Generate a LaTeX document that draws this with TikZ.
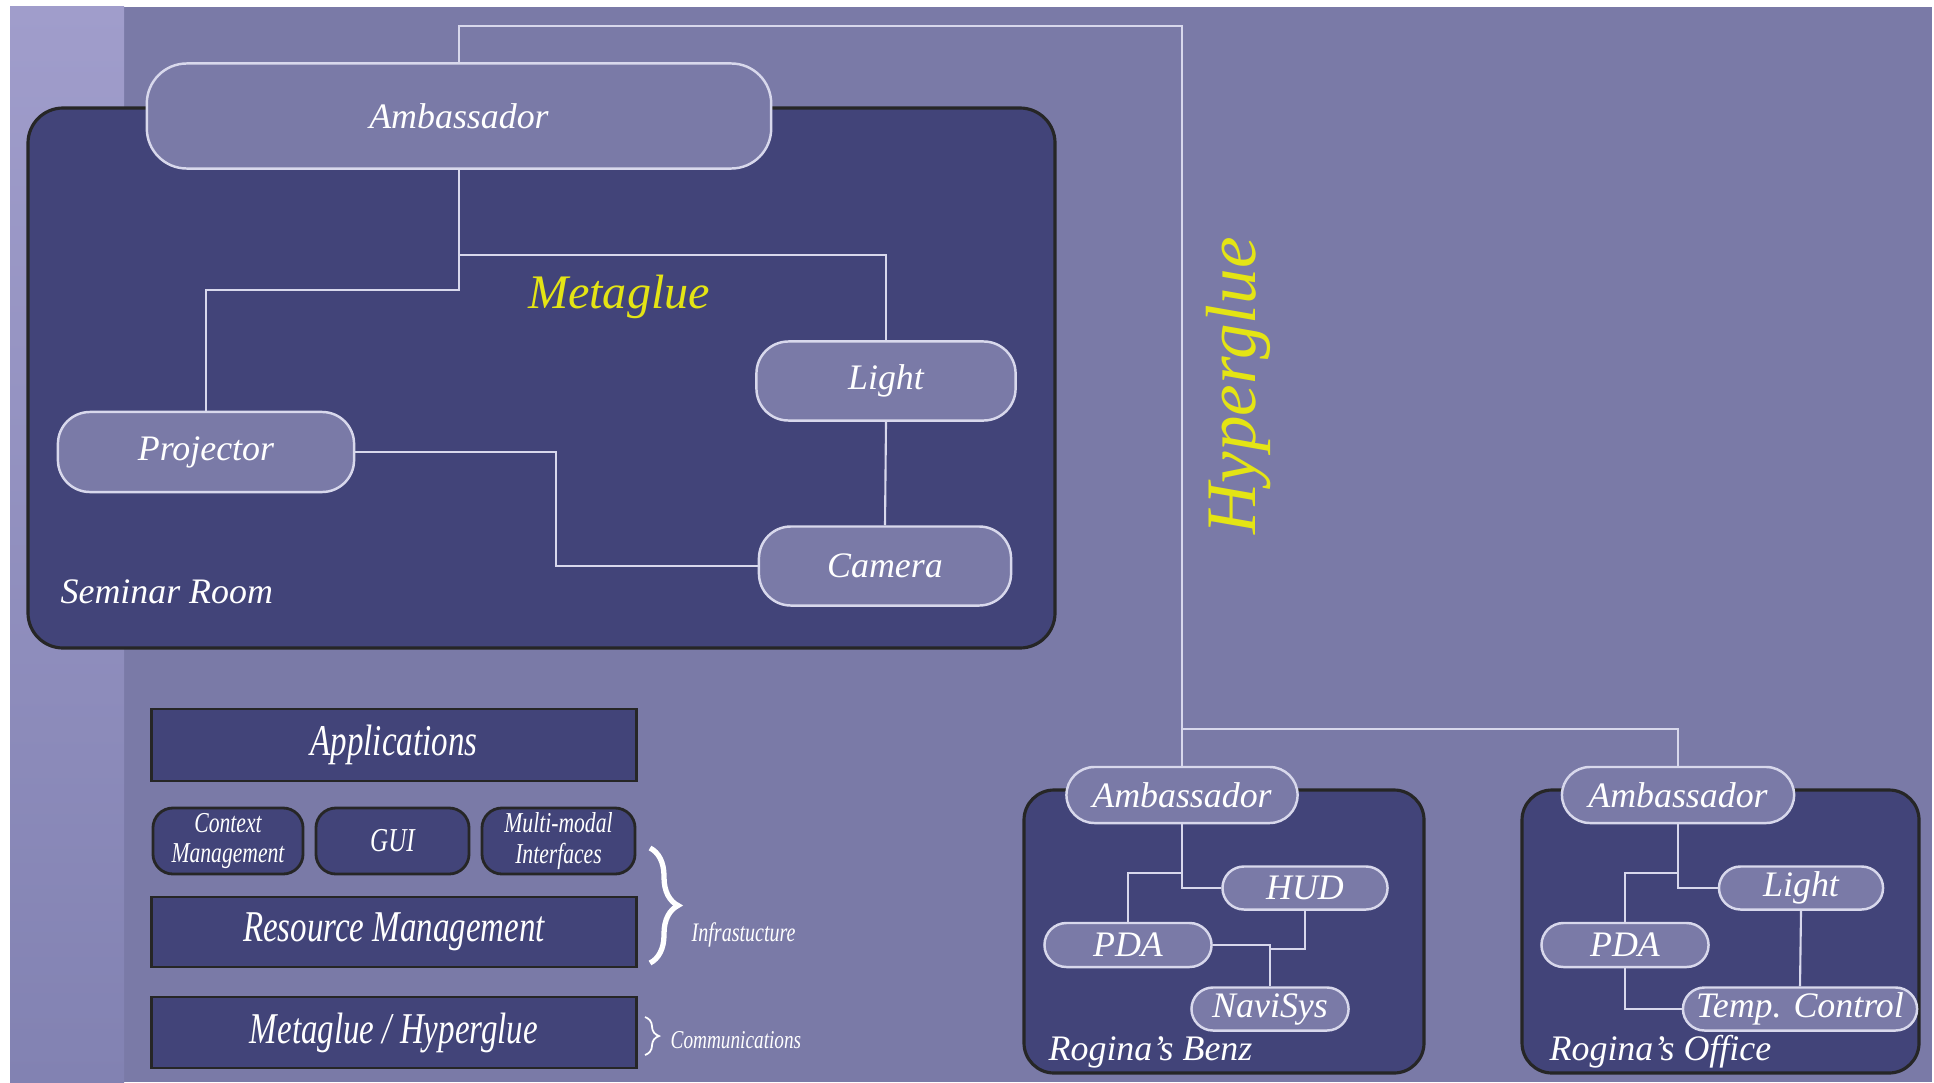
\documentclass[tikz,border=0pt]{standalone}
\usepackage{fontspec}
\setmainfont{Liberation Serif}
\newfontfamily\condfont[FakeStretch=0.75]{Liberation Serif}
\usepackage{tikz}
\usetikzlibrary{positioning, calc, decorations.pathreplacing}
\definecolor{slidebg}{RGB}{122, 122, 167}
\definecolor{striptop}{RGB}{160, 157, 203}
\definecolor{stripbot}{RGB}{130, 130, 178}
\definecolor{roomfill}{RGB}{66, 68, 121}
\definecolor{wirecol}{RGB}{216, 216, 236}
\definecolor{gluey}{RGB}{228, 228, 20}

\tikzset{
  room/.style={draw=black!85, line width=0.9pt, fill=roomfill, rounded corners=0.35cm},
  agent/.style={draw=wirecol, line width=0.7pt, fill=slidebg, text=white, inner sep=0pt,
    font=\fontsize{10.2}{12}\selectfont\itshape},
  layer/.style={draw=black!85, line width=0.8pt, fill=roomfill, text=white, inner sep=0pt,
    font=\condfont\itshape\fontsize{12.5}{14}\selectfont},
  wire/.style={draw=wirecol, line width=0.6pt},
  roomlabel/.style={anchor=west, inner sep=0pt, text=white, font=\fontsize{10.2}{12}\selectfont\itshape}
}

\begin{document}
\begin{tikzpicture}[x=0.01cm, y=-0.01cm]
  \useasboundingbox (0,0) rectangle (1934,1082);
  \fill[white] (0,0) rectangle (1934,1082);
  \fill[slidebg] (10,7) rectangle (1932,1082);
  \shade[top color=striptop, bottom color=stripbot] (10,7) rectangle (124,1082);

  % rooms
  \draw[room] (28,108) rectangle (1055,648);
  \draw[room, rounded corners=0.3cm] (1024,790) rectangle (1424,1073);
  \draw[room, rounded corners=0.3cm] (1522,790) rectangle (1919,1073);

  % Seminar Room agents
  \node[agent, minimum width=6.24cm, minimum height=1.05cm, rounded corners=0.4cm] (amb) at (459,116) {Ambassador};
  \node[agent, minimum width=2.96cm, minimum height=0.80cm, rounded corners=0.32cm] (proj) at (206,452) {Projector};
  \node[agent, minimum width=2.59cm, minimum height=0.79cm, rounded corners=0.32cm] (light) at (886,381) {Light};
  \node[agent, minimum width=2.52cm, minimum height=0.79cm, rounded corners=0.32cm] (cam) at (885,566) {Camera};

  % Rogina's Benz agents
  \node[agent, minimum width=2.31cm, minimum height=0.56cm, rounded corners=0.28cm] (bamb) at (1182,795) {Ambassador};
  \node[agent, minimum width=1.65cm, minimum height=0.43cm, rounded corners=0.215cm] (hud) at (1305,888) {HUD};
  \node[agent, minimum width=1.67cm, minimum height=0.44cm, rounded corners=0.22cm] (bpda) at (1128,945) {PDA};
  \node[agent, minimum width=1.57cm, minimum height=0.43cm, rounded corners=0.215cm] (navi) at (1270,1009) {NaviSys};

  % Rogina's Office agents
  \node[agent, minimum width=2.32cm, minimum height=0.56cm, rounded corners=0.28cm] (oamb) at (1678,795) {Ambassador};
  \node[agent, minimum width=1.64cm, minimum height=0.43cm, rounded corners=0.215cm] (olight) at (1801,888) {Light};
  \node[agent, minimum width=1.67cm, minimum height=0.44cm, rounded corners=0.22cm] (opda) at (1625,945) {PDA};
  \node[agent, minimum width=2.34cm, minimum height=0.43cm, rounded corners=0.215cm] (temp) at (1800,1009) {Temp. Control};

  % wires
  \coordinate (hg) at (1182,26);
  \coordinate (hgsplit) at (1182,729);
  \coordinate (sA) at (459,290);
  \coordinate (sB) at (459,255);
  \coordinate (sC) at (556,452);
  \coordinate (bj) at (1182,873);
  \coordinate (bk) at (1270,949);
  \coordinate (oj) at (1678,873);
  \draw[wire] (amb.north) |- (hg) -- (bamb.north);
  \draw[wire] (hgsplit) -| (oamb.north);
  \draw[wire] (amb.south) -- (sA) -| (proj.north);
  \draw[wire] (sB) -| (light.north);
  \draw[wire] (light.south) -- (cam.north);
  \draw[wire] (proj.east) -- (sC) |- (cam.west);
  \draw[wire] (bamb.south) |- (hud.west);
  \draw[wire] (bj) -| (bpda.north);
  \draw[wire] (bpda.east) -| (navi.north);
  \draw[wire] (hud.south) |- (bk);
  \draw[wire] (oamb.south) |- (olight.west);
  \draw[wire] (oj) -| (opda.north);
  \draw[wire] (opda.south) |- (temp.west);
  \draw[wire] (olight.south) -- (temp.north);

  % labels
  \node[roomlabel] (semlbl) at (60,592) {Seminar Room};
  \node[roomlabel] (benzlbl) at (1048,1052) {Rogina's Benz};
  \node[roomlabel] (offlbl) at (1549,1052) {Rogina's Office};
  \node[text=gluey, font=\fontsize{13.7}{16}\selectfont\itshape] (meta) at (619,297) {Metaglue};
  \node[text=gluey, rotate=90, font=\fontsize{20.2}{24}\selectfont\itshape] (hyper) at (1238,386) {Hyperglue};

  % layer stack
  \node[layer, minimum width=4.84cm, minimum height=0.72cm] (apps) at (394,745) {Applications};
  \node[layer, minimum width=1.50cm, minimum height=0.66cm, rounded corners=0.2cm, align=center,
    font=\condfont\itshape\fontsize{8.2}{8.8}\selectfont] (ctx) at (228,841) {Context\\Management};
  \node[layer, minimum width=1.53cm, minimum height=0.66cm, rounded corners=0.2cm,
    font=\condfont\itshape\fontsize{9.5}{11}\selectfont] (gui) at (392.5,841) {GUI};
  \node[layer, minimum width=1.53cm, minimum height=0.66cm, rounded corners=0.2cm, align=center,
    font=\condfont\itshape\fontsize{8.2}{8.8}\selectfont] (mmi) at (558.5,841) {Multi-modal\\Interfaces};
  \node[layer, minimum width=4.84cm, minimum height=0.70cm] (res) at (394,932) {Resource Management};
  \node[layer, minimum width=4.84cm, minimum height=0.71cm] (glue) at (394,1032.5) {Metaglue / Hyperglue};

  % braces
  \draw[white, line width=1.5pt, decorate, decoration={brace, amplitude=0.28cm}] (650,848) -- (650,963);
  \draw[white, line width=0.5pt, decorate, decoration={brace, amplitude=0.14cm}] (645,1017) -- (645,1055);
  \node[anchor=west, inner sep=0pt, text=white, font=\condfont\itshape\fontsize{7.6}{9}\selectfont] (infra) at (691,935) {Infrastucture};
  \node[anchor=west, inner sep=0pt, text=white, font=\condfont\itshape\fontsize{7.3}{9}\selectfont] (comm) at (670,1040) {Communications};
\end{tikzpicture}
\end{document}
